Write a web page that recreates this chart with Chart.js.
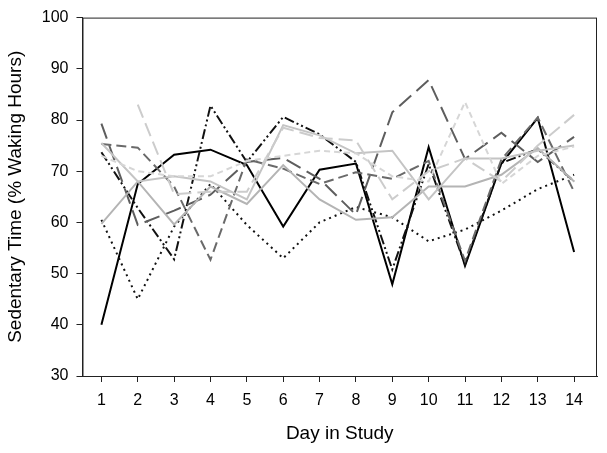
<!DOCTYPE html>
<html>
<head>
<meta charset="utf-8">
<script src="https://cdn.jsdelivr.net/npm/chart.js@4"></script>
<style>
  body { margin: 0; background: #fff; }
  #wrap { width: 607px; height: 453px; }
</style>
</head>
<body>
<div id="wrap"><canvas id="chart"></canvas></div>
<script>
// Day in study
let days = [1, 2, 3, 4, 5, 6, 7, 8, 9, 10, 11, 12, 13, 14];
let yTicks = [30, 40, 50, 60, 70, 80, 90, 100];

// one array per participant (% waking hours sedentary)
let p1 = [40, 67.5, 73.2, 74.2, 71.2, 59.2, 70.3, 71.5, 47.9, 74.7, 51.5, 71.5, 80.4, 54.2];
let p2 = [73.7, 62.8, 52.8, 82.8, 71.8, 80.6, 77.2, 71.8, 50.8, 71.4, 51.8, 71.6, 74.3, 68];
let p3 = [60.5, 45, 59.2, 67.5, 59.5, 53, 60, 63, 61, 56.3, 58.6, 62.3, 66.5, 69.3];
let p4 = [79.3, 59.5, 62.3, 65.4, 71.8, 72.6, 68.5, 61.5, 81.5, 87.8, 72.4, 77.5, 71.8, 76.7];
let p5 = [75.3, 74.6, 67, 52.7, 72.3, 70.5, 67.5, 69.8, 68.5, 72, 52.5, 72.3, 80.5, 66];
let p6 = [59.7, 68, 59.6, 67, 63.6, 71.2, 64.5, 60.5, 61, 67, 67, 69.3, 74.5, 68];
let p7 = [75.5, 68, 69, 68, 64.5, 79, 77, 73.5, 74, 64.5, 72.5, 72.5, 74, 75];
let p8 = [null, 83, 65.5, 66, 66, 78.5, 76.5, 76, 64.5, 70, 72.5, 68, 75, 81];
let p9 = [73, 70, 69, 69, 72, 73, 74, 73.5, 69, 68, 83.5, 67.5, 73, 74.8];

function pts(arr) {
    return days.map((d, i) => ({ x: d, y: arr[i] }));
}

function line(arr, color, dash, width) {
    return {
        data: pts(arr),
        borderColor: color,
        borderWidth: width || 2,
        borderDash: dash,
        pointRadius: 0,
        fill: false,
        tension: 0,
        spanGaps: false
    };
}

// frame around the plot area
const frame = {
    id: 'frame',
    afterDraw(c) {
        let a = c.chartArea;
        let ctx = c.ctx;
        ctx.save();
        ctx.strokeStyle = '#222';
        ctx.lineWidth = 1;
        ctx.strokeRect(a.left + 0.5, a.top + 0.5, a.right - a.left - 1, a.bottom - a.top);
        ctx.restore();
    }
};

let font = 'Liberation Sans, Arial';

let chart = new Chart(document.getElementById("chart"), {
    type: "line",
    data: {
        datasets: [
            line(p9, '#d6d6d6', [6, 4]),
            line(p8, '#cccccc', [14, 6]),
            line(p7, '#c4c4c4', []),
            line(p6, '#b4b4b4', []),
            line(p5, '#6a6a6a', [10, 5]),
            line(p4, '#5e5e5e', [16, 7]),
            line(p3, '#111111', [2, 4]),
            line(p2, '#111111', [10, 3, 2, 3, 2, 3]),
            line(p1, '#000000', [])
        ]
    },
    plugins: [frame],
    options: {
        responsive: true,
        maintainAspectRatio: false,
        animation: false,
        layout: { padding: { top: 15, right: 10, left: 0, bottom: 4 } },
        plugins: {
            legend: { display: false },
            tooltip: { enabled: false }
        },
        scales: {
            x: {
                type: 'linear',
                min: 0.48,
                max: 14.63,
                afterBuildTicks: s => { s.ticks = days.map(v => ({ value: v })); },
                grid: { drawOnChartArea: false, drawTicks: true, tickLength: 6, color: '#222' },
                border: { color: '#222' },
                ticks: { color: '#000', font: { family: font, size: 16 }, padding: 9, maxRotation: 0 },
                title: { display: true, text: 'Day in Study', color: '#000', font: { family: font, size: 19 }, padding: { top: 3 } }
            },
            y: {
                min: 30,
                max: 100,
                afterBuildTicks: s => { s.ticks = yTicks.map(v => ({ value: v })); },
                grid: { drawOnChartArea: false, drawTicks: true, tickLength: 6, color: '#222' },
                border: { color: '#222' },
                ticks: { color: '#000', font: { family: font, size: 16 }, padding: 8 },
                title: { display: true, text: 'Sedentary Time (% Waking Hours)', color: '#000', font: { family: font, size: 19 }, padding: { bottom: 7 } }
            }
        }
    }
});
</script>
</body>
</html>
